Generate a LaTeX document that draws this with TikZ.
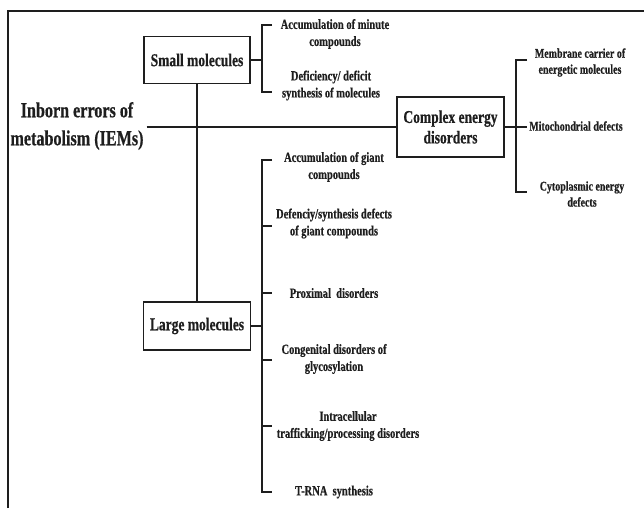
\documentclass[tikz,border=0pt]{standalone}
\usepackage{fontspec}
\setmainfont{Liberation Serif}[FakeStretch=0.75, BoldFeatures={FakeBold=0.6}]
\definecolor{ink}{HTML}{1E1E1E}
\begin{document}
\begin{tikzpicture}[x=1pt,y=-1pt,
  every node/.style={text=ink, font=\bfseries},
  line/.style={draw=ink, line width=1.6pt},
  bigbox/.style={draw=ink, line width=1.6pt, inner sep=2pt, align=center,
                 font=\bfseries\fontsize{18}{20.5}\selectfont},
  lbl/.style={align=center, inner sep=0pt, font=\bfseries\fontsize{14}{17}\selectfont},
  rlbl/.style={align=center, inner sep=0pt, font=\bfseries\fontsize{13.3}{16}\selectfont},
  root/.style={align=center, inner sep=3pt, font=\bfseries\fontsize{21.5}{28}\selectfont}]
\useasboundingbox (0,0) rectangle (644,508);

% open frame
\draw[line, line width=1.3pt] (8,508) -- (8,11) -- (644,11);

% main nodes
\node[root] (root) at (77,126) {Inborn errors of\\metabolism (IEMs)};
\node[bigbox, minimum width=106pt, minimum height=47pt] (small) at (197,60) {Small molecules};
\node[bigbox, minimum width=107pt, minimum height=48pt] (large) at (197,326) {Large molecules};
\node[bigbox, minimum width=107pt, minimum height=60pt] (complex) at (450.5,127) {Complex energy\\disorders};

% trunk
\draw[line] (root.east |- complex.west) -- (complex.west);
\draw[line] (small.south) -- (large.north);

% small molecules bracket
\coordinate (sb) at (262,60);
\coordinate (sbt) at (262,25);
\coordinate (sbb) at (262,92);
\draw[line] (small.east) -- (sb);
\draw[line] ([xshift=10pt]sbt) -- (sbt) -- (sbb) -- ([xshift=10pt]sbb);
\node[lbl] (s1) at (335,34) {Accumulation of minute\\compounds};
\node[lbl] (s2) at (331,85.5) {Deficiency/ deficit\\synthesis of molecules};

% complex energy bracket
\coordinate (cb) at (516,127);
\coordinate (cbt) at (516,60);
\coordinate (cbb) at (516,192);
\draw[line] (complex.east) -- ([xshift=11pt]cb);
\draw[line] ([xshift=11pt]cbt) -- (cbt) -- (cbb) -- ([xshift=11pt]cbb);
\node[rlbl] (c1) at (580,62.5) {Membrane carrier of\\energetic molecules};
\node[rlbl] (c2) at (576,126) {Mitochondrial defects};
\node[rlbl] (c3) at (582,194) {Cytoplasmic energy\\defects};

% large molecules bracket
\coordinate (lb) at (262,326);
\coordinate (l1) at (262,160);
\coordinate (l2) at (262,226);
\coordinate (l3) at (262,293);
\coordinate (l4) at (262,360);
\coordinate (l5) at (262,426);
\coordinate (l6) at (262,492);
\draw[line] (large.east) -- (lb);
\draw[line] ([xshift=10pt]l1) -- (l1) -- (l6) -- ([xshift=10pt]l6);
\foreach \t in {l2,l3,l4,l5} \draw[line] (\t) -- ([xshift=10pt]\t);

\node[lbl] (g1) at (334,167) {Accumulation of giant\\compounds};
\node[lbl] (g2) at (334,223.5) {Defenciy/synthesis defects\\of giant compounds};
\node[lbl] (g3) at (334,293) {Proximal~ disorders};
\node[lbl] (g4) at (334,359) {Congenital disorders of\\glycosylation};
\node[lbl] (g5) at (348,426) {Intracellular\\trafficking/processing disorders};
\node[lbl] (g6) at (334,492) {T-RNA~ synthesis};
\end{tikzpicture}
\end{document}
